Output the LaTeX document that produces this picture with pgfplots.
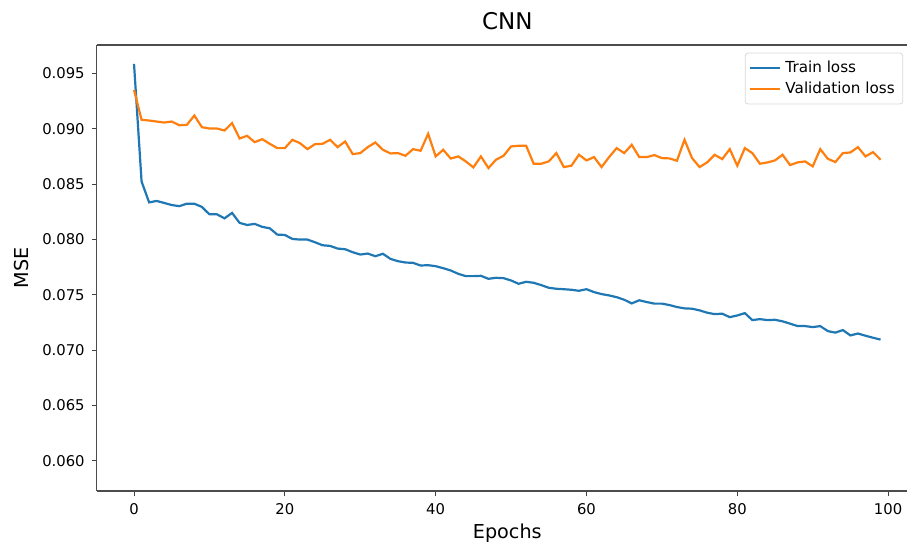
\documentclass[border=0pt]{standalone}
\usepackage{fontspec}
\setmainfont{DejaVu Sans}
\usepackage{pgfplots}
\pgfplotsset{compat=1.18}
\usepackage{pgfplotstable}

\definecolor{mplblue}{HTML}{1F77B4}
\definecolor{mplorange}{HTML}{FF7F0E}

% epoch, train loss, validation loss
\pgfplotstableread{
ep  train    val
0   0.09584  0.0935
1   0.08523  0.0908
2   0.08334  0.09073
3   0.08347  0.09064
4   0.08329  0.09055
5   0.08310  0.09064
6   0.08300  0.09031
7   0.08322  0.09034
8   0.08322  0.09118
9   0.08293  0.09013
10  0.08226  0.09001
11  0.08226  0.09001
12  0.08190  0.08983
13  0.08239  0.09050
14  0.08149  0.08911
15  0.08130  0.08935
16  0.08140  0.08878
17  0.08113  0.08905
18  0.08100  0.08863
19  0.08043  0.08824
20  0.08040  0.08824
21  0.08004  0.08899
22  0.07998  0.08869
23  0.07998  0.08815
24  0.07974  0.08860
25  0.07947  0.08863
26  0.07941  0.08899
27  0.07917  0.08833
28  0.07911  0.08884
29  0.07884  0.08770
30  0.07863  0.08779
31  0.07872  0.08833
32  0.07848  0.08875
33  0.07870  0.08809
34  0.07824  0.08776
35  0.07803  0.08779
36  0.07791  0.08755
37  0.07788  0.08815
38  0.07764  0.08800
39  0.07767  0.08953
40  0.07758  0.08749
41  0.07740  0.08809
42  0.07719  0.08730
43  0.07689  0.08749
44  0.07668  0.08704
45  0.07668  0.08650
46  0.07671  0.08749
47  0.07644  0.08644
48  0.07653  0.08719
49  0.07650  0.08755
50  0.07629  0.08839
51  0.07599  0.08845
52  0.07617  0.08845
53  0.07608  0.08683
54  0.07587  0.08683
55  0.07563  0.08704
56  0.07554  0.08779
57  0.07550  0.08653
58  0.07545  0.08665
59  0.07536  0.08764
60  0.07550  0.08713
61  0.07524  0.08743
62  0.07506  0.08653
63  0.07494  0.08743
64  0.07478  0.08824
65  0.07455  0.08779
66  0.07422  0.08854
67  0.07450  0.08743
68  0.07434  0.08743
69  0.07420  0.08761
70  0.07420  0.08734
71  0.07407  0.08731
72  0.07389  0.08710
73  0.07377  0.08899
74  0.07374  0.08734
75  0.07359  0.08653
76  0.07338  0.08695
77  0.07325  0.08764
78  0.07329  0.08725
79  0.07298  0.08815
80  0.07313  0.08665
81  0.07334  0.08824
82  0.07271  0.08779
83  0.07280  0.08683
84  0.07271  0.08695
85  0.07274  0.08713
86  0.07260  0.08764
87  0.07239  0.08671
88  0.07217  0.08695
89  0.07217  0.08704
90  0.07208  0.08659
91  0.07217  0.08815
92  0.07172  0.08728
93  0.07158  0.08698
94  0.07181  0.08779
95  0.07133  0.08785
96  0.07150  0.08833
97  0.07130  0.08749
98  0.07112  0.08788
99  0.07095  0.08719
}\losstable

\begin{document}
\begin{tikzpicture}
\begin{axis}[
    name=main,
    scale only axis,
    width=410.6pt, height=223pt,
    xmin=-4.95, xmax=103.95,
    ymin=0.05728, ymax=0.09755,
    axis x line*=box, axis y line*=left,
    xtick={0,20,40,60,80,100},
    ytick={0.060,0.065,0.070,0.075,0.080,0.085,0.090,0.095},
    yticklabel style={/pgf/number format/.cd, fixed, fixed zerofill, precision=3},
    /pgf/number format/assume math mode=true,
    scaled y ticks=false,
    tick align=outside,
    tick pos=left,
    major tick length=2.5pt,
    tick style={black!75, line width=0.5pt},
    axis line style={black!70, line width=0.6pt, -},
    ticklabel style={font=\fontsize{7.4}{8}\selectfont},
    xlabel={Epochs},
    ylabel={MSE},
    xlabel style={font=\fontsize{9.6}{10}\selectfont, yshift=2pt},
    ylabel style={font=\fontsize{9.6}{10}\selectfont},
    title={CNN},
    title style={font=\fontsize{11.5}{12}\selectfont, yshift=-2pt},
    legend style={
        at={(0.982,0.983)}, anchor=north east,
        font=\fontsize{7.6}{9}\selectfont,
        draw=black!15, rounded corners=1.5pt,
        row sep=-1pt, inner sep=2pt,
    },
    legend cell align=left,
    legend image code/.code={\draw[#1] (0pt,0pt) -- (15pt,0pt);},
]
\addplot[mplblue, line width=1.1pt] table[x=ep, y=train] {\losstable};
\addlegendentry{Train loss}
\addplot[mplorange, line width=1.1pt] table[x=ep, y=val] {\losstable};
\addlegendentry{Validation loss}
\end{axis}
% the reference is cut off just short of the right spine
\pgfresetboundingbox
\useasboundingbox ([shift={(-48.35pt,-26.15pt)}]main.south west)
    rectangle ([shift={(405.15pt,245.5pt)}]main.south west);
\end{tikzpicture}
\end{document}
